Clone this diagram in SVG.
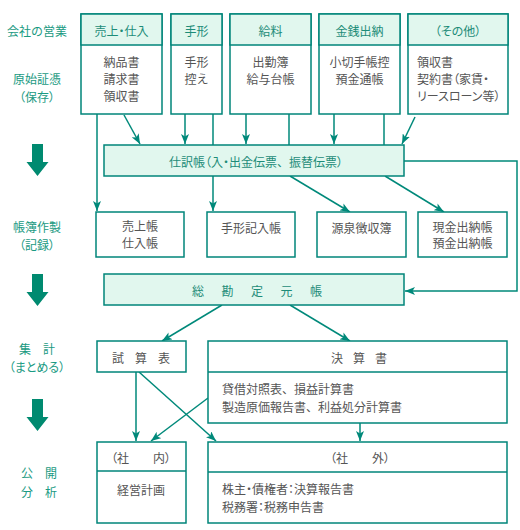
<svg xmlns="http://www.w3.org/2000/svg" width="520" height="530" viewBox="0 0 520 530">
<defs>
<marker id="ah" markerUnits="userSpaceOnUse" markerWidth="10" markerHeight="8" refX="10" refY="4" orient="auto">
<path d="M0,0 L10,4 L0,8 L2.5,4 z" fill="#00897a"/>
</marker>
<style>
text{font-family:"Noto Sans CJK JP","Noto Sans CJK SC",sans-serif;font-size:12px;dominant-baseline:central}
.p{font-feature-settings:"palt"}
.box{fill:#fff;stroke:#00857a;stroke-width:1.5}
.hd{fill:#e1f7ee;stroke:#00857a;stroke-width:1.5}
.ht{fill:#1d8c78;text-anchor:middle}
.bt{fill:#555;text-anchor:middle}
.bl{fill:#555}
.lab{fill:#1a9a82;text-anchor:middle}
.c{stroke:#00897a;stroke-width:1.5;fill:none}
.a{stroke:#00897a;stroke-width:1.5;fill:none;marker-end:url(#ah)}
.big{fill:#008a70}
</style>
</defs>
<rect width="520" height="530" fill="#fff"/>

<g id="labels">
<text class="lab" x="37" y="30">会社の営業</text>
<text class="lab" x="37" y="78">原始証憑</text>
<text class="lab p" x="37" y="96">（保存）</text>
<text class="lab" x="37" y="226">帳簿作製</text>
<text class="lab p" x="37" y="244">（記録）</text>
<text class="lab" x="37" y="348">集　計</text>
<text class="lab p" x="37" y="366">（まとめる）</text>
<text class="lab" x="39" y="472">公　開</text>
<text class="lab" x="39" y="491">分　析</text>
<path class="big" d="M32,144 H43 V162 H48.5 L37.5,176 L26.5,162 H32 Z"/>
<path class="big" d="M32,274 H43 V292 H48.5 L37.5,306 L26.5,292 H32 Z"/>
<path class="big" d="M32,399 H43 V417 H48.5 L37.5,431 L26.5,417 H32 Z"/>
</g>

<g id="connectors">
<line class="a" x1="97" y1="114" x2="97" y2="211"/>
<line class="a" x1="124" y1="115" x2="140" y2="144"/>
<line class="a" x1="185" y1="114" x2="185" y2="144"/>
<line class="c" x1="213" y1="114" x2="213" y2="145"/>
<line class="a" x1="246" y1="114" x2="246" y2="144"/>
<line class="c" x1="289" y1="114" x2="289" y2="145"/>
<line class="a" x1="334" y1="114" x2="334" y2="144"/>
<line class="c" x1="384" y1="114" x2="384" y2="145"/>
<line class="a" x1="415" y1="117" x2="402" y2="144"/>
<line class="a" x1="213" y1="176" x2="213" y2="211"/>
<line class="a" x1="290" y1="176" x2="350" y2="212"/>
<line class="a" x1="385" y1="176" x2="444" y2="212"/>
<polyline class="a" points="404,161 517,161 517,291 405,291"/>
<line class="a" x1="222" y1="305" x2="162" y2="341"/>
<line class="a" x1="290" y1="305" x2="350" y2="341"/>
<line class="a" x1="136" y1="372" x2="136" y2="441"/>
<line class="a" x1="139" y1="372" x2="216" y2="441"/>
<line class="a" x1="208" y1="398" x2="151" y2="441"/>
<line class="a" x1="360" y1="423" x2="360" y2="441"/>
</g>

<g id="n-uriage">
<rect class="box" x="81" y="14" width="81" height="100"/>
<rect class="hd" x="81" y="14" width="81" height="31"/>
<text class="ht p" x="121.5" y="30">売上・仕入</text>
<text class="bt" x="121.5" y="61">納品書</text>
<text class="bt" x="121.5" y="78">請求書</text>
<text class="bt" x="121.5" y="95">領収書</text>
</g>
<g id="n-tegata">
<rect class="box" x="171" y="14" width="51" height="100"/>
<rect class="hd" x="171" y="14" width="51" height="31"/>
<text class="ht" x="196.5" y="30">手形</text>
<text class="bt" x="196.5" y="61">手形</text>
<text class="bt" x="196.5" y="78">控え</text>
</g>
<g id="n-kyuryo">
<rect class="box" x="230" y="14" width="81" height="100"/>
<rect class="hd" x="230" y="14" width="81" height="31"/>
<text class="ht" x="270.5" y="30">給料</text>
<text class="bt" x="270.5" y="61">出勤簿</text>
<text class="bt" x="270.5" y="78">給与台帳</text>
</g>
<g id="n-kinsen">
<rect class="box" x="319" y="14" width="81" height="100"/>
<rect class="hd" x="319" y="14" width="81" height="31"/>
<text class="ht" x="359.5" y="30">金銭出納</text>
<text class="bt" x="359.5" y="61">小切手帳控</text>
<text class="bt" x="359.5" y="78">預金通帳</text>
</g>
<g id="n-sonota">
<rect class="box" x="408" y="14" width="100" height="100"/>
<rect class="hd" x="408" y="14" width="100" height="31"/>
<text class="ht p" x="458" y="30">（その他）</text>
<text class="bl" x="417" y="61">領収書</text>
<text class="bl p" x="417" y="78">契約書（家賃・</text>
<text class="bl p" x="417" y="95">リースローン等）</text>
</g>

<g id="n-shiwake">
<rect class="hd" x="104" y="145" width="300" height="31"/>
<text class="ht" x="256" y="161">仕訳帳<tspan class="p">（入・出金伝票</tspan>、<tspan class="p">振替伝票）</tspan></text>
</g>

<g id="n-uriagecho">
<rect class="box" x="96" y="212" width="88" height="45"/>
<text class="bt" x="140" y="225.5">売上帳</text>
<text class="bt" x="140" y="242">仕入帳</text>
</g>
<g id="n-tegatakinyu">
<rect class="box" x="207" y="212" width="88" height="45"/>
<text class="bt" x="251" y="227">手形記入帳</text>
</g>
<g id="n-gensen">
<rect class="box" x="317" y="212" width="89" height="45"/>
<text class="bt" x="361.5" y="227">源泉徴収簿</text>
</g>
<g id="n-genkin">
<rect class="box" x="418" y="212" width="89" height="45"/>
<text class="bt" x="462.5" y="226">現金出納帳</text>
<text class="bt" x="462.5" y="242.5">預金出納帳</text>
</g>

<g id="n-motocho">
<rect class="hd" x="104" y="274" width="300" height="31"/>
<text class="ht" x="198" y="290">総</text>
<text class="ht" x="227.5" y="290">勘</text>
<text class="ht" x="257" y="290">定</text>
<text class="ht" x="286.5" y="290">元</text>
<text class="ht" x="316" y="290">帳</text>
</g>

<g id="n-shisanhyo">
<rect class="box" x="97" y="341" width="89" height="31"/>
<text class="bt" x="118" y="357">試</text>
<text class="bt" x="141" y="357">算</text>
<text class="bt" x="164" y="357">表</text>
</g>
<g id="n-kessansho">
<rect class="box" x="208" y="341" width="299" height="82"/>
<line x1="208" y1="372" x2="507" y2="372" stroke="#00857a" stroke-width="1.5"/>
<text class="bt" x="337" y="357">決</text>
<text class="bt" x="359" y="357">算</text>
<text class="bt" x="381" y="357">書</text>
<text class="bl" x="222" y="388">貸借対照表、損益計算書</text>
<text class="bl" x="222" y="406">製造原価報告書、利益処分計算書</text>
</g>

<g id="n-shanai">
<rect class="box" x="97" y="442" width="89" height="81"/>
<line x1="97" y1="471" x2="186" y2="471" stroke="#00857a" stroke-width="1.5"/>
<text class="bt p" x="141" y="457">（社　　内）</text>
<text class="bt" x="141" y="489">経営計画</text>
</g>
<g id="n-shagai">
<rect class="box" x="208" y="442" width="299" height="81"/>
<line x1="208" y1="472" x2="507" y2="472" stroke="#00857a" stroke-width="1.5"/>
<text class="bt p" x="360" y="457">（社　　外）</text>
<text class="bl p" x="222" y="488">株主・債権者：決算報告書</text>
<text class="bl p" x="222" y="506">税務署：税務申告書</text>
</g>
</svg>
